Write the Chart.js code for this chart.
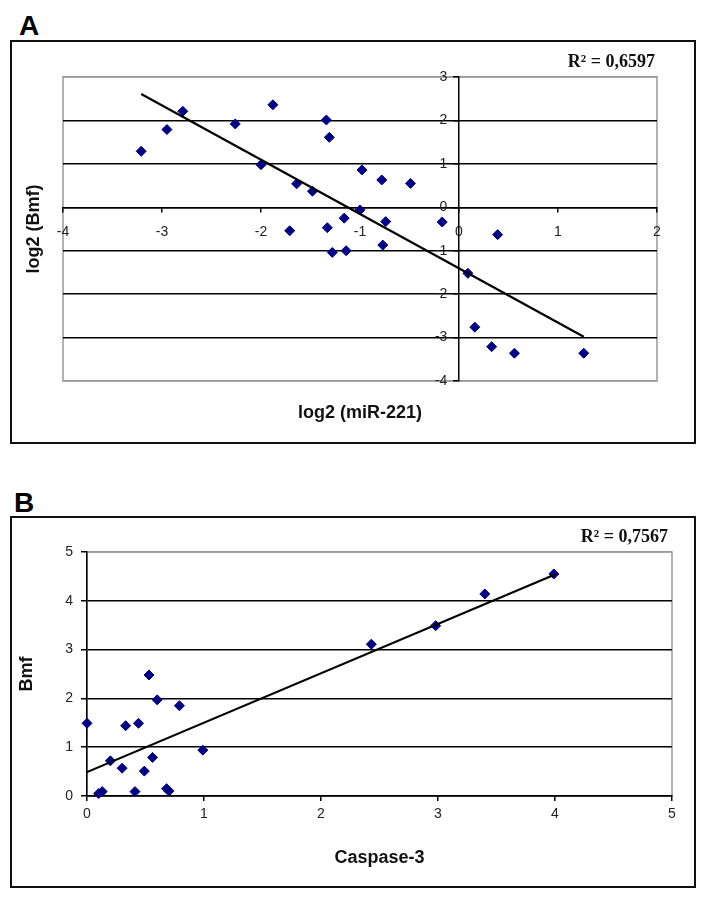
<!DOCTYPE html>
<html>
<head>
<meta charset="utf-8">
<script src="https://cdn.jsdelivr.net/npm/chart.js@4.4.1/dist/chart.umd.min.js"></script>
<style>
  body { margin: 0; background: #fff; width: 706px; height: 898px; position: relative; overflow: hidden; }
  .panel-letter { position: absolute; font: bold 28px "Liberation Sans", Arial, sans-serif; color: #000; }
  .frame { position: absolute; border: 2px solid #111; box-sizing: border-box; }
  canvas { position: absolute; left: 0; }
</style>
</head>
<body>
<div class="panel-letter" style="left:19px; top:10px;">A</div>
<div class="frame" style="left:10px; top:40px; width:686px; height:404px;"></div>
<div class="panel-letter" style="left:14px; top:487px;">B</div>
<div class="frame" style="left:10px; top:516px; width:686px; height:372px;"></div>
<canvas id="chartA" style="top:0px;" width="706" height="460"></canvas>
<canvas id="chartB" style="top:460px;" width="706" height="438"></canvas>
<script>
// Panel A: log2 (miR-221) vs log2 (Bmf)
const miR221 = [-3.21, -2.95, -2.79, -2.26, -1.88, -2.00, -1.64, -1.48, -1.71, -1.34, -1.31, -1.33, -1.28, -1.16,
  -1.14, -0.98, -1.00, -0.78, -0.74, -0.77, -0.49, -0.17, 0.39, 0.09, 0.16, 0.33, 0.56, 1.26];
const bmfA = [1.29, 1.79, 2.21, 1.92, 2.36, 0.98, 0.54, 0.37, -0.54, 2.01, 1.61, -0.47, -1.04, -0.25,
  -1.00, 0.86, -0.06, 0.63, -0.33, -0.87, 0.55, -0.34, -0.63, -1.52, -2.76, -3.21, -3.36, -3.36];
const trendAX = [-3.21, 1.26];
const trendAY = [2.61, -2.98];
const xRangeA = [-4, 2];
const yRangeA = [-4, 3];
const r2A = "R\u00B2 = 0,6597";

// Panel B: Caspase-3 vs Bmf
const caspase3 = [0.00, 0.10, 0.13, 0.20, 0.30, 0.33, 0.41, 0.44, 0.49, 0.53, 0.56, 0.60, 0.68, 0.70, 0.79, 0.99,
  2.43, 2.98, 3.40, 3.99];
const bmfB = [1.49, 0.05, 0.09, 0.72, 0.57, 1.44, 0.09, 1.49, 0.51, 2.48, 0.79, 1.97, 0.15, 0.10, 1.85, 0.94,
  3.11, 3.49, 4.14, 4.55];
const trendBX = [0, 4];
const trendBY = [0.49, 4.54];
const xRangeB = [0, 5];
const yRangeB = [0, 5];
const r2B = "R\u00B2 = 0,7567";

const tickFont = { family: "'Liberation Sans', Arial, sans-serif", size: 14 };
const tickColor = "#222";
const pointColor = "#000080";

function toPoints(xs, ys) {
  return xs.map((x, i) => ({ x: x, y: ys[i] }));
}

// grey plot border, axis titles and the R² note
const extraText = {
  id: "extraText",
  beforeDraw(chart, args, opts) {
    const a = chart.chartArea;
    const ctx = chart.ctx;
    ctx.save();
    ctx.strokeStyle = "#999";
    ctx.lineWidth = 1.5;
    ctx.strokeRect(a.left, a.top, a.right - a.left, a.bottom - a.top);
    ctx.restore();
  },
  afterDraw(chart, args, opts) {
    const a = chart.chartArea;
    const ctx = chart.ctx;
    ctx.save();
    ctx.fillStyle = "#111";
    ctx.font = "bold 18px 'Liberation Sans', Arial, sans-serif";
    ctx.textAlign = "center";
    ctx.textBaseline = "middle";
    ctx.fillText(opts.xTitle, (a.left + a.right) / 2, a.bottom + opts.xTitleGap);
    ctx.save();
    ctx.translate(opts.yTitleX, (a.top + a.bottom) / 2);
    ctx.rotate(-Math.PI / 2);
    ctx.fillText(opts.yTitle, 0, 0);
    ctx.restore();
    ctx.font = "bold 18px 'Liberation Serif', 'Times New Roman', serif";
    ctx.textAlign = "right";
    ctx.fillText(opts.note, a.right + opts.noteDx, a.top - 15);
    ctx.restore();
  }
};

function datasets(xs, ys, tx, ty) {
  return [
    {
      type: "line",
      data: toPoints(tx, ty),
      borderColor: "#000",
      borderWidth: 2.2,
      pointRadius: 0,
      fill: false,
      order: 1,
    },
    {
      data: toPoints(xs, ys),
      pointStyle: "rectRot",
      pointRadius: 5,
      backgroundColor: pointColor,
      borderColor: pointColor,
      borderWidth: 1,
      clip: false,
      order: 2,
    },
  ];
}

const edgeGrid = (min, max) => (ctx) =>
  ctx.tick && (ctx.tick.value === min || ctx.tick.value === max) ? "#999" : "#000";

new Chart(document.getElementById("chartA"), {
  type: "scatter",
  data: { datasets: datasets(miR221, bmfA, trendAX, trendAY) },
  plugins: [extraText],
  options: {
    responsive: false,
    animation: false,
    layout: { padding: { left: 63, right: 49, top: 77, bottom: 79 } },
    plugins: {
      legend: { display: false },
      tooltip: { enabled: false },
      extraText: { xTitle: "log2 (miR-221)", xTitleGap: 32, yTitle: "log2 (Bmf)", yTitleX: 34, note: r2A, noteDx: -2 },
    },
    scales: {
      x: {
        type: "linear",
        min: xRangeA[0],
        max: xRangeA[1],
        position: { y: 0 },
        ticks: { stepSize: 1, font: tickFont, color: tickColor, padding: 12, maxRotation: 0, autoSkip: false },
        grid: { drawOnChartArea: false, drawTicks: true, tickLength: 4, tickColor: "#000", lineWidth: 1.5 },
        border: { color: "#000", width: 1.5 },
        afterFit: (s) => { s.height = 0; },
      },
      y: {
        type: "linear",
        min: yRangeA[0],
        max: yRangeA[1],
        position: { x: 0 },
        // centred axis puts labels flush on the line, pad them off with spaces
        ticks: { stepSize: 1, font: tickFont, color: tickColor, autoSkip: false, callback: (v) => v + "   " },
        grid: { color: edgeGrid(yRangeA[0], yRangeA[1]), lineWidth: 1.5, tickLength: 5, tickColor: "#000" },
        border: { color: "#000", width: 1.5 },
        afterFit: (s) => { s.width = 0; },
      },
    },
  },
});

new Chart(document.getElementById("chartB"), {
  type: "scatter",
  data: { datasets: datasets(caspase3, bmfB, trendBX, trendBY) },
  plugins: [extraText],
  options: {
    responsive: false,
    animation: false,
    layout: { padding: { left: 47, right: 34, top: 92, bottom: 72 } },
    plugins: {
      legend: { display: false },
      tooltip: { enabled: false },
      extraText: { xTitle: "Caspase-3", xTitleGap: 62, yTitle: "Bmf", yTitleX: 27, note: r2B, noteDx: -4 },
    },
    scales: {
      x: {
        type: "linear",
        min: xRangeB[0],
        max: xRangeB[1],
        position: "bottom",
        ticks: { stepSize: 1, font: tickFont, color: tickColor, padding: 5, maxRotation: 0, autoSkip: false },
        grid: { drawOnChartArea: false, drawTicks: true, tickLength: 5, tickColor: "#000", lineWidth: 1.5 },
        border: { color: "#000", width: 1.5 },
        afterFit: (s) => { s.height = 30; },
      },
      y: {
        type: "linear",
        min: yRangeB[0],
        max: yRangeB[1],
        position: "left",
        ticks: { stepSize: 1, font: tickFont, color: tickColor, padding: 8, autoSkip: false },
        grid: { color: edgeGrid(-99, yRangeB[1]), lineWidth: 1.5, tickLength: 6, tickColor: "#000" },
        border: { color: "#000", width: 1.5 },
        afterFit: (s) => { s.width = 40; },
      },
    },
  },
});
</script>
</body>
</html>
